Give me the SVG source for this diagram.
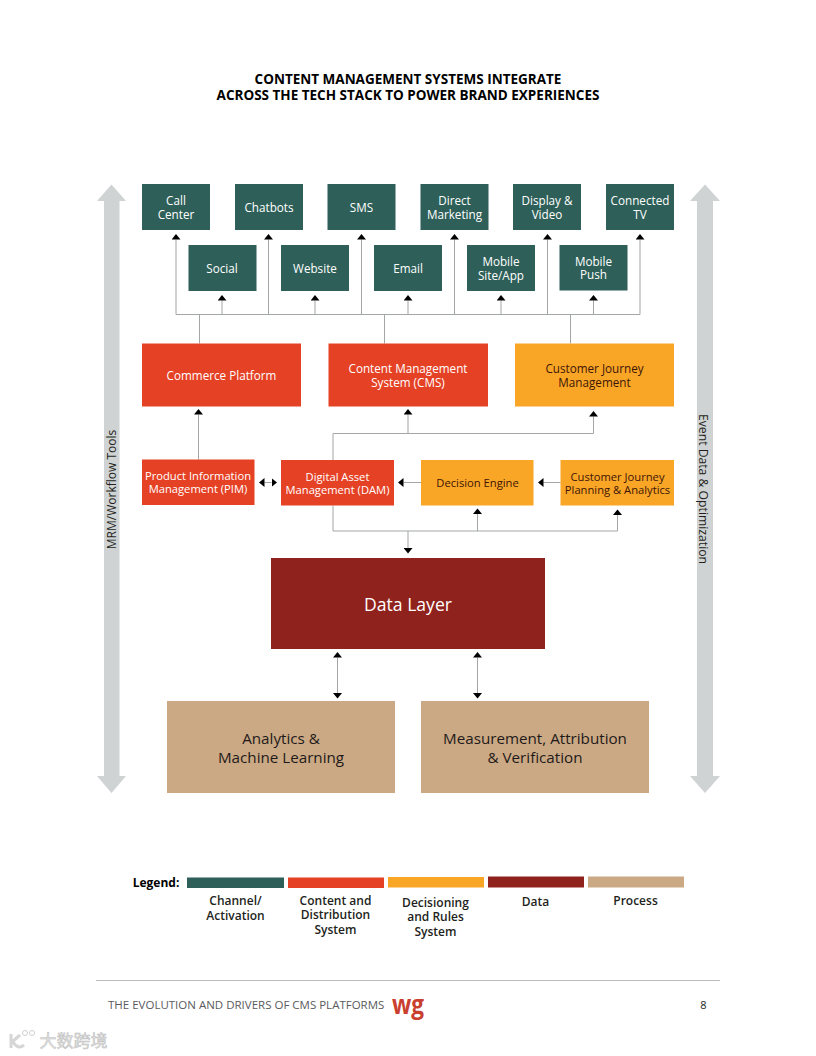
<svg xmlns="http://www.w3.org/2000/svg" width="816" height="1056" viewBox="0 0 816 1056">
<style>
text{font-family:"Open Sans","Noto Sans","Liberation Sans",sans-serif;text-anchor:middle}
.g{fill:#2e5f59}.r{fill:#e54125}.o{fill:#f9a526}.d{fill:#8f221c}.t{fill:#cba984}
.w{fill:#fff;font-size:11.7px}.k{fill:#3d1508;font-size:11.7px}
.w2{fill:#fff;font-size:11.2px}.k2{fill:#3d1508;font-size:11.2px}
.b{fill:#1f1a1a;font-size:15.200px}
.c{fill:none;stroke:#a3a6a6;stroke-width:1}
.a{marker-end:url(#h)}.aa{marker-end:url(#h);marker-start:url(#hs)}
.s{fill:#d0d3d3}
.ttl{font-size:13.5px;font-weight:700;fill:#000}
.lg{font-size:12px;font-weight:600;fill:#231f20}
</style>
<defs>
<marker id="h" markerUnits="userSpaceOnUse" markerWidth="6" markerHeight="9" refX="0" refY="4.500" orient="auto"><path d="M0,0L5.500,4.500L0,9z" fill="#000"/></marker>
<marker id="hs" markerUnits="userSpaceOnUse" markerWidth="6" markerHeight="9" refX="5.500" refY="4.500" orient="auto"><path d="M5.500,0L0,4.500L5.500,9z" fill="#000"/></marker>
</defs>
<rect width="816" height="1056" fill="#fff"/>
<g id="title"><text class="ttl" x="408" y="84">CONTENT MANAGEMENT SYSTEMS INTEGRATE</text><text class="ttl" x="408" y="100">ACROSS THE TECH STACK TO POWER BRAND EXPERIENCES</text></g>

<g id="side-left"><path class="s" d="M111.500,184.500L126,201H119.500V776H126L111.500,793L97,776H104V201H97z"/><text transform="translate(116,489.500) rotate(-90)" font-size="12" fill="#231f20">MRM/Workflow Tools</text></g>
<g id="side-right"><path class="s" d="M705,184.500L720,201H713V776H720L705,793L690,776H697V201H690z"/><text transform="translate(699,489) rotate(90)" font-size="12.200" fill="#231f20">Event Data &amp; Optimization</text></g>

<g id="connectors">
<path class="c" d="M176,314.500H640"/>
<path class="c a" d="M176,314.500V239.500"/><path class="c a" d="M268.500,314.500V239.500"/><path class="c a" d="M361.500,314.500V239.500"/><path class="c a" d="M454.500,314.500V239.500"/><path class="c a" d="M547.500,314.500V239.500"/><path class="c a" d="M640,314.500V239.500"/>
<path class="c a" d="M222,314.500V300.500"/><path class="c a" d="M315,314.500V300.500"/><path class="c a" d="M408,314.500V300.500"/><path class="c a" d="M501,314.500V300.500"/><path class="c a" d="M593.500,314.500V300.500"/>
<path class="c" d="M199.500,314.500V343.500M384.500,314.500V343.500M570.500,314.500V343.500"/>
<path class="c a" d="M198.500,459.500V414.500"/>
<path class="c" d="M333,460V433.500H593.500"/>
<path class="c a" d="M408,433.500V414.500"/><path class="c a" d="M593.500,433.500V416.500"/>
<path class="c aa" d="M264.500,482.500H271.500"/>
<path class="c a" d="M421,482.500H403.500"/><path class="c a" d="M560.500,482.500H543.500"/>
<path class="c" d="M333,505.500V531H617.500"/>
<path class="c a" d="M477.500,531V514"/><path class="c a" d="M617.500,531V515"/><path class="c a" d="M408,531V548"/>
<path class="c aa" d="M337.500,657.500V693"/><path class="c aa" d="M477.500,657.500V693"/>
</g>

<g id="call-center"><rect class="g" x="142" y="184" width="68" height="46"/><text class="w" x="176" y="205">Call</text><text class="w" x="176" y="219">Center</text></g>
<g id="chatbots"><rect class="g" x="235" y="184" width="68" height="46"/><text class="w" x="269" y="212">Chatbots</text></g>
<g id="sms"><rect class="g" x="327.500" y="184" width="68" height="46"/><text class="w" x="361.500" y="212">SMS</text></g>
<g id="direct-marketing"><rect class="g" x="420.500" y="184" width="68" height="46"/><text class="w" x="454.500" y="205">Direct</text><text class="w" x="454.500" y="219">Marketing</text></g>
<g id="display-video"><rect class="g" x="513" y="184" width="68" height="46"/><text class="w" x="547" y="205">Display &amp;</text><text class="w" x="547" y="219">Video</text></g>
<g id="connected-tv"><rect class="g" x="606" y="184" width="68" height="46"/><text class="w" x="640" y="205">Connected</text><text class="w" x="640" y="219">TV</text></g>
<g id="social"><rect class="g" x="188.500" y="245" width="68" height="46"/><text class="w" x="222" y="273">Social</text></g>
<g id="website"><rect class="g" x="281" y="245" width="68" height="46"/><text class="w" x="315" y="273">Website</text></g>
<g id="email"><rect class="g" x="374" y="245" width="68" height="46"/><text class="w" x="408" y="273">Email</text></g>
<g id="mobile-site"><rect class="g" x="467" y="245" width="68" height="46"/><text class="w" x="501" y="266">Mobile</text><text class="w" x="501" y="280">Site/App</text></g>
<g id="mobile-push"><rect class="g" x="559.500" y="245" width="68" height="45.500"/><text class="w" x="593.500" y="266">Mobile</text><text class="w" x="593.500" y="279">Push</text></g>

<g id="commerce"><rect class="r" x="142" y="343.500" width="159" height="63"/><text class="w" x="221.500" y="380">Commerce Platform</text></g>
<g id="cms"><rect class="r" x="328.500" y="343.500" width="159.500" height="63"/><text class="w" x="408" y="373">Content Management</text><text class="w" x="408" y="387">System (CMS)</text></g>
<g id="cjm"><rect class="o" x="515" y="343.500" width="159" height="63"/><text class="k" x="594.500" y="373">Customer Journey</text><text class="k" x="594.500" y="387">Management</text></g>

<g id="pim"><rect class="r" x="142" y="459.500" width="112.500" height="45.500"/><text class="w2" x="198" y="480">Product Information</text><text class="w2" x="198" y="493">Management (PIM)</text></g>
<g id="dam"><rect class="r" x="281" y="460" width="113" height="45.500"/><text class="w2" x="337.500" y="481">Digital Asset</text><text class="w2" x="337.500" y="494">Management (DAM)</text></g>
<g id="decision"><rect class="o" x="421" y="460" width="112.500" height="45.500"/><text class="k2" x="477.500" y="487">Decision Engine</text></g>
<g id="cjpa"><rect class="o" x="560.500" y="460" width="113.500" height="45.500"/><text class="k2" x="617.500" y="481">Customer Journey</text><text class="k2" x="617.500" y="494">Planning &amp; Analytics</text></g>

<g id="data-layer"><rect class="d" x="271" y="558" width="274" height="91"/><text x="408" y="611" font-size="17.600" fill="#fff">Data Layer</text></g>
<g id="analytics"><rect class="t" x="167" y="701" width="228" height="92"/><text class="b" x="281" y="744">Analytics &amp;</text><text class="b" x="281" y="763">Machine Learning</text></g>
<g id="measurement"><rect class="t" x="421" y="701" width="228" height="92"/><text class="b" x="535" y="744">Measurement, Attribution</text><text class="b" x="535" y="763">&amp; Verification</text></g>

<g id="legend">
<text x="156" y="887" font-size="12" font-weight="700" fill="#000">Legend:</text>
<rect class="g" x="187" y="877.500" width="97" height="10.500"/><rect class="r" x="288" y="877.500" width="96" height="10.500"/><rect class="o" x="388" y="877" width="96" height="10.500"/><rect class="d" x="488" y="876.500" width="96" height="11"/><rect class="t" x="588" y="876.500" width="96" height="11"/>
<text class="lg" x="235.500" y="905">Channel/</text><text class="lg" x="235.500" y="920">Activation</text>
<text class="lg" x="335.500" y="905">Content and</text><text class="lg" x="335.500" y="919">Distribution</text><text class="lg" x="335.500" y="934">System</text>
<text class="lg" x="435.500" y="907">Decisioning</text><text class="lg" x="435.500" y="921">and Rules</text><text class="lg" x="435.500" y="936">System</text>
<text class="lg" x="535.500" y="906">Data</text>
<text class="lg" x="635.500" y="905">Process</text>
</g>

<g id="footer">
<path d="M96,980.500H720" stroke="#bdbdbd" stroke-width="1"/>
<text x="108" y="1009" font-size="11.500" fill="#5a5a5c" style="text-anchor:start">THE EVOLUTION AND DRIVERS OF CMS PLATFORMS</text>
<text x="392" y="1014" font-size="26" font-weight="700" fill="#c9402f" style="text-anchor:start" textLength="32" lengthAdjust="spacingAndGlyphs">wg</text>
<text x="703.500" y="1009" font-size="11" fill="#231f20">8</text>
</g>
<g id="watermark">
<path d="M11,1034V1048M12,1042L20,1035M13,1042Q18,1050 24,1045" fill="none" stroke="#d6d6d6" stroke-width="3"/>
<circle cx="25" cy="1033" r="2.500" fill="none" stroke="#d0d0d0"/><circle cx="32" cy="1033" r="2.500" fill="none" stroke="#d0d0d0"/>
<text x="73.500" y="1047" font-size="17" fill="#e2e2e2" stroke="#bdbdbd" stroke-width=".5" style="font-family:'Noto Sans CJK SC',sans-serif">大数跨境</text>
</g>
</svg>
